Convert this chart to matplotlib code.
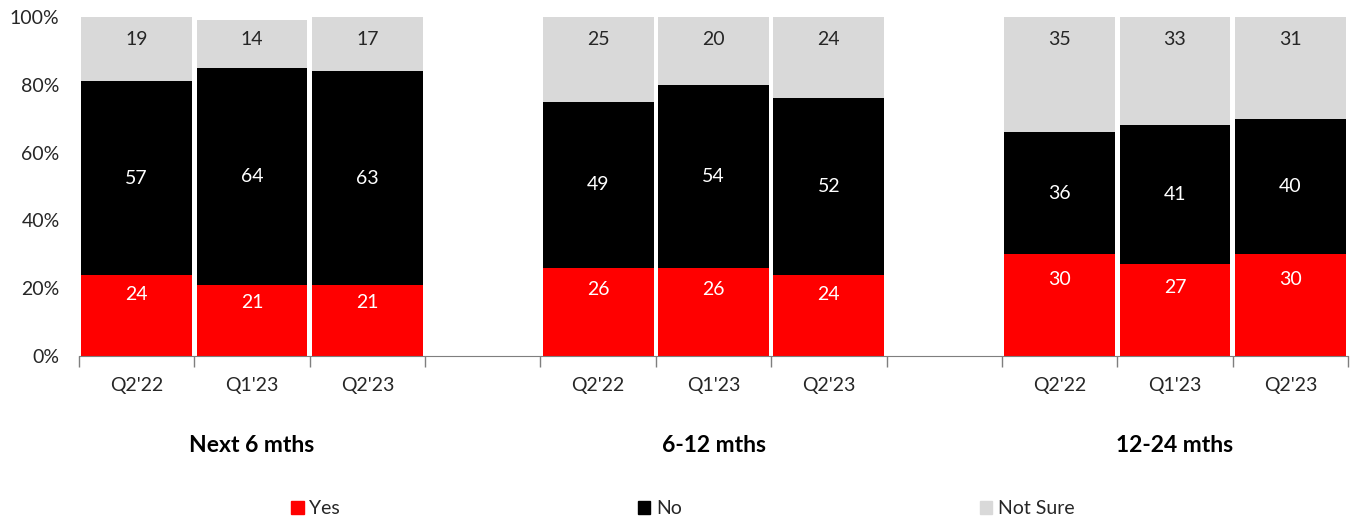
import numpy as np
import matplotlib
matplotlib.use("Agg")
import matplotlib.pyplot as plt
from matplotlib.patches import Patch
from matplotlib.ticker import FixedLocator, PercentFormatter

plt.rcParams['font.family'] = ['Lato', 'DejaVu Sans']

# survey answers (%) per horizon and wave
horizons = ["Next 6 mths", "6-12 mths", "12-24 mths"]
waves = ["Q2'22", "Q1'23", "Q2'23"]
yes = [[24, 21, 21], [26, 26, 24], [30, 27, 30]]
no = [[57, 64, 63], [49, 54, 52], [36, 41, 40]]
not_sure = [[19, 14, 17], [25, 20, 24], [35, 33, 31]]

c_yes = "#FF0000"
c_no = "#000000"
c_ns = "#D9D9D9"
txt = "#262626"
fs = 14

fig = plt.figure(figsize=(13.54, 5.19), dpi=100)
ax = fig.add_axes([79 / 1354, 1 - 356 / 519, 1269 / 1354, 339 / 519])

# three bars per horizon, one empty slot between groups
pos = []
for g in range(len(horizons)):
    pos.append([g * 4 + i for i in range(len(waves))])

w = 0.96
for g in range(len(horizons)):
    x = np.array(pos[g])
    y1 = np.array(yes[g])
    y2 = np.array(no[g])
    y3 = np.array(not_sure[g])
    ax.bar(x, y1, w, color=c_yes)
    ax.bar(x, y2, w, bottom=y1, color=c_no)
    ax.bar(x, y3, w, bottom=y1 + y2, color=c_ns)
    for xi, a, b, c in zip(x, y1, y2, y3):
        ax.text(xi, a * 0.75, str(a), ha='center', va='center', color='white', fontsize=fs)
        ax.text(xi, a + b / 2, str(b), ha='center', va='center', color='white', fontsize=fs)
        ax.text(xi, 93.5, str(c), ha='center', va='center', color=txt, fontsize=fs)

ax.set_xlim(-0.5, 10.5)
ax.set_ylim(0, 100)
ax.yaxis.set_major_locator(FixedLocator([0, 20, 40, 60, 80, 100]))
ax.yaxis.set_major_formatter(PercentFormatter(100, decimals=0))
ax.tick_params(axis='y', length=0, pad=14, labelsize=fs, labelcolor=txt)

centers = [p for grp in pos for p in grp]
ax.set_xticks(centers)
ax.set_xticklabels(waves * len(horizons))
ax.set_xticks(np.arange(-0.5, 11, 1), minor=True)
ax.tick_params(axis='x', which='major', length=0, pad=15, labelsize=fs, labelcolor=txt)
ax.tick_params(axis='x', which='minor', length=8, width=1, color='#7f7f7f', direction='out')

for s in ['top', 'right', 'left']:
    ax.spines[s].set_visible(False)
ax.spines['bottom'].set_color('#7f7f7f')

# horizon labels under each group
for g, name in enumerate(horizons):
    xc = (pos[g][0] + pos[g][-1]) / 2
    fig.text(ax.transData.transform((xc, 0))[0] / fig.bbox.width, 1 - 446 / 519, name,
             ha='center', va='center', fontsize=16.5, fontweight='bold', color='black')

handles = [Patch(color=c_yes, label="Yes"), Patch(color=c_no, label="No"),
           Patch(color=c_ns, label="Not Sure")]
fig.legend(handles=handles, loc='center left', bbox_to_anchor=(291 / 1354, 1 - 509 / 519),
           ncol=3, frameon=False, fontsize=fs, handlelength=0.65, handleheight=0.65,
           handletextpad=0.3, columnspacing=15.3, borderpad=0, borderaxespad=0,
           labelcolor=txt)

fig.savefig("out.png", dpi=100)
